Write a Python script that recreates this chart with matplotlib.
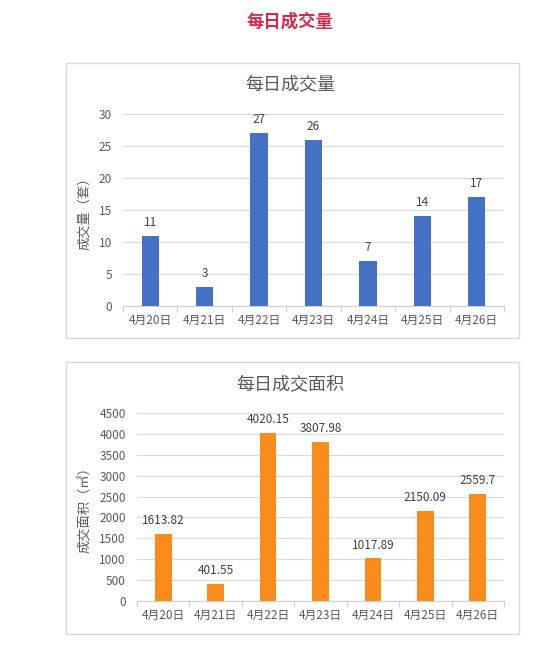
import matplotlib.pyplot as plt
from matplotlib.patches import Rectangle

plt.rcParams['font.family'] = ['Noto Sans CJK SC', 'DejaVu Sans']

# Data
dates = ['4月20日', '4月21日', '4月22日', '4月23日', '4月24日', '4月25日', '4月26日']
volume = [11, 3, 27, 26, 7, 14, 17]
area = [1613.82, 401.55, 4020.15, 3807.98, 1017.89, 2150.09, 2559.7]
area_labels = ['1613.82', '401.55', '4020.15', '3807.98', '1017.89', '2150.09', '2559.7']

volume_ticks = [0, 5, 10, 15, 20, 25, 30]
area_ticks = [0, 500, 1000, 1500, 2000, 2500, 3000, 3500, 4000, 4500]

W, H = 558, 655
fig = plt.figure(figsize=(W / 100, H / 100), dpi=100)
fig.patch.set_facecolor('white')

def fx(px):
    return px / W

def fy(py):
    return 1 - py / H

fig.text(fx(290), fy(22), '每日成交量', ha='center', va='center',
         fontsize=12.5, fontweight='bold', color='#d42a4c')

# chart frames
for top, bottom in [(63, 338), (362, 634)]:
    fig.patches.append(Rectangle((fx(66), fy(bottom)), fx(519) - fx(66), fy(top) - fy(bottom),
                                 transform=fig.transFigure, fill=False,
                                 edgecolor='#d9d9d9', linewidth=1))


def bar_chart(ax, values, labels, ticks, color, title, ylabel, title_y, ylabel_x):
    x = range(len(values))
    ax.bar(x, values, width=0.32, color=color, zorder=3)
    ax.set_xlim(-0.5, len(values) - 0.5)
    ax.set_ylim(ticks[0], ticks[-1])
    ax.set_yticks(ticks)
    ax.set_xticks(list(x))
    ax.set_xticklabels(dates)
    ax.set_xticks([i - 0.5 for i in range(len(values) + 1)], minor=True)
    ax.tick_params(axis='x', which='major', length=0, labelsize=8.5, labelcolor='#595959', pad=6)
    ax.tick_params(axis='x', which='minor', length=4, color='#d0d0d0', width=0.8)
    ax.tick_params(axis='y', length=0, labelsize=8.5, labelcolor='#595959', pad=8)
    ax.grid(axis='y', color='#d9d9d9', linewidth=0.8, zorder=0)
    for s in ['top', 'right', 'left']:
        ax.spines[s].set_visible(False)
    ax.spines['bottom'].set_color('#d0d0d0')
    ax.spines['bottom'].set_linewidth(0.8)
    for i, (v, lab) in enumerate(zip(values, labels)):
        ax.annotate(lab, (i, v), xytext=(0, 5), textcoords='offset points',
                    ha='center', va='bottom', fontsize=8.5, color='#404040')
    fig.text(fx(290), fy(title_y), title, ha='center', va='center',
             fontsize=13, color='#595959')
    ax.set_ylabel(ylabel, fontsize=9.5, color='#595959')
    ax.yaxis.set_label_coords(ylabel_x, 0.5)


ax1 = fig.add_axes([fx(123), fy(306), fx(504) - fx(123), fy(114) - fy(306)])
bar_chart(ax1, volume, [str(v) for v in volume], volume_ticks, '#4472c4',
          '每日成交量', '成交量（套）', 84, -0.084)

ax2 = fig.add_axes([fx(137), fy(601), fx(504) - fx(137), fy(413) - fy(601)])
bar_chart(ax2, area, area_labels, area_ticks, '#f98c1a',
          '每日成交面积', '成交面积（㎡）', 384, -0.123)

fig.savefig('out.png', dpi=100)
